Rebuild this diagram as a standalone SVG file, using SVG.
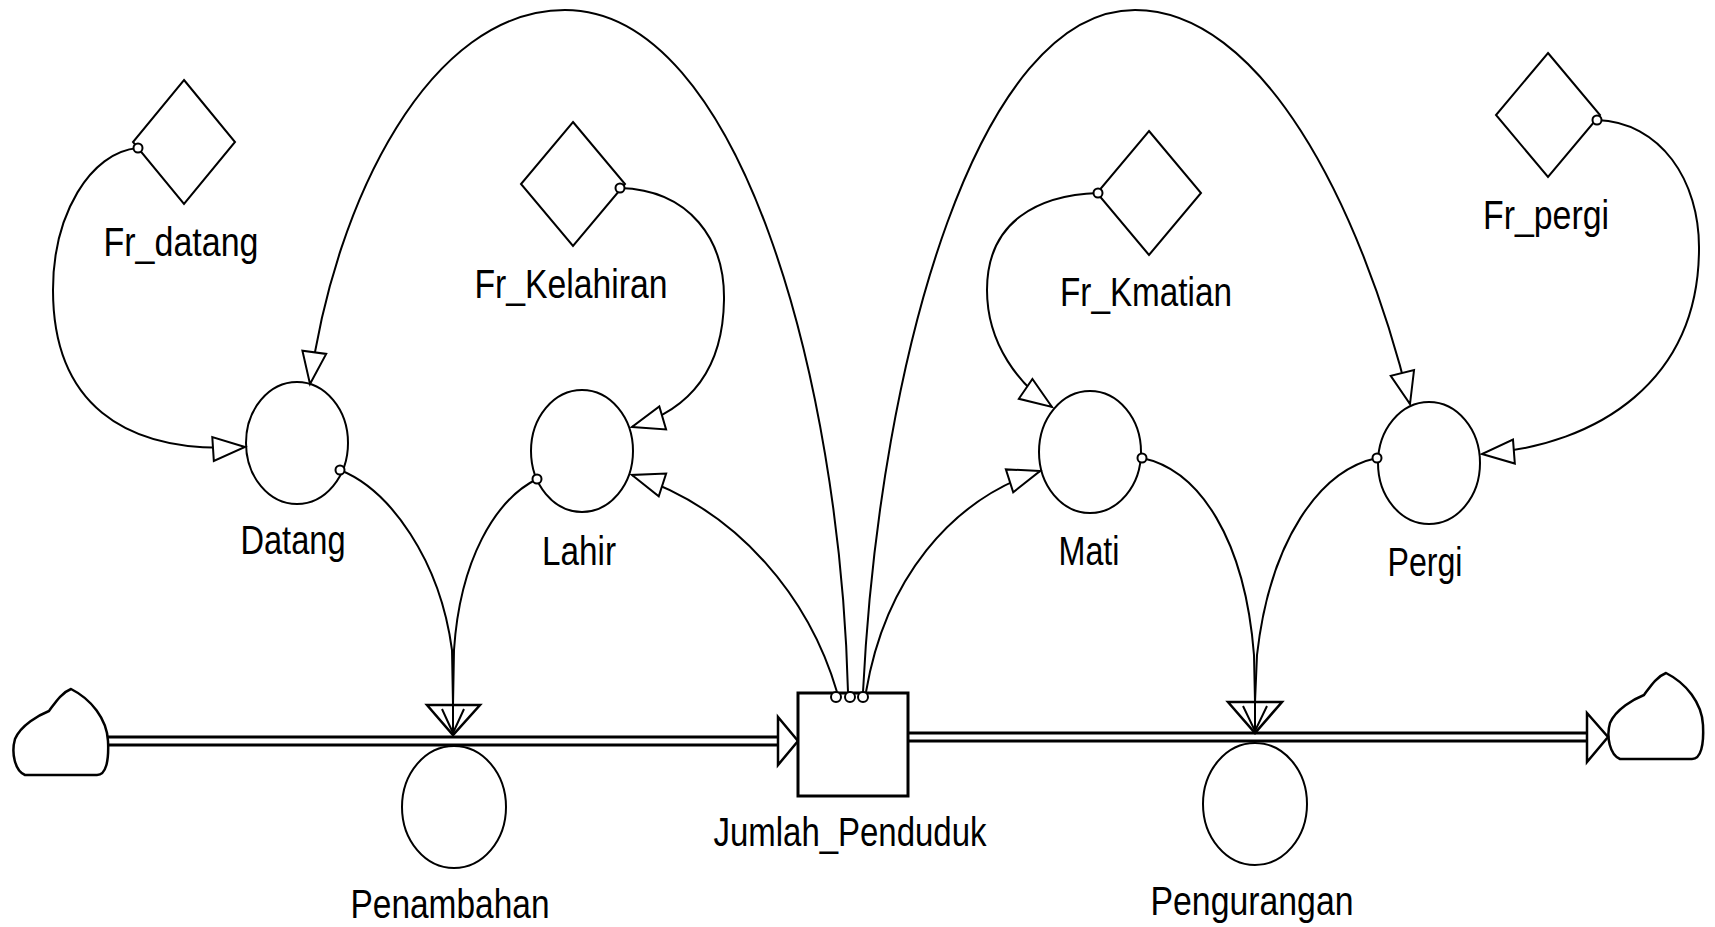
<svg xmlns="http://www.w3.org/2000/svg" width="1715" height="927" viewBox="0 0 1715 927">
<style>
.ln{fill:none;stroke:#000;stroke-width:2}
.node{fill:#fff;stroke:#000;stroke-width:2}
.box{fill:#fff;stroke:#000;stroke-width:3}
.pipe{fill:none;stroke:#000;stroke-width:3}
.hd{fill:#fff;stroke:#000;stroke-width:2.5;stroke-linejoin:miter}
.org{fill:#fff;stroke:#000;stroke-width:2}
.lbl{font-family:"Liberation Sans",Arial,sans-serif;font-size:40px;fill:#000;text-anchor:middle}
</style>
<defs>
<marker id="ah" viewBox="-35 -15 38 30" refX="0" refY="0" markerWidth="38" markerHeight="30" markerUnits="userSpaceOnUse" orient="auto">
<path d="M0,0 L-32,-12 L-32,12 Z" fill="#fff" stroke="#000" stroke-width="2"/>
</marker>
<path id="cloud" d="M12,86 H84 C93,86 96,72 95,52 C94,30 78,10 58,0 C48,4 42,14 36,22 C26,26 8,36 2,50 C-2,64 2,82 12,86 Z" fill="#fff" stroke="#000" stroke-width="2.5"/>
</defs>
<rect width="1715" height="927" fill="#fff"/>

<g id="cloud_source"><use href="#cloud" transform="translate(13,689)"/></g>
<g id="cloud_sink"><use href="#cloud" transform="translate(1608,673)"/></g>

<g id="flow_Penambahan">
<line class="pipe" x1="108" y1="737" x2="779" y2="737"/>
<line class="pipe" x1="108" y1="745" x2="779" y2="745"/>
<path class="hd" d="M778,717 L798,741 L778,765 Z"/>
<ellipse class="node" cx="454" cy="807" rx="52" ry="61"/>
<path class="hd" d="M427,705 L480,705 L453,735 Z"/>
<path class="ln" d="M442,709 L453,733 L464,709 M453,705 V735"/>
<text class="lbl" x="450" y="918" textLength="199" lengthAdjust="spacingAndGlyphs">Penambahan</text>
</g>

<g id="flow_Pengurangan">
<line class="pipe" x1="908" y1="733" x2="1588" y2="733"/>
<line class="pipe" x1="908" y1="741" x2="1588" y2="741"/>
<path class="hd" d="M1587,713 L1608,737 L1587,762 Z"/>
<ellipse class="node" cx="1255" cy="804" rx="52" ry="61"/>
<path class="hd" d="M1228,702 L1282,702 L1255,733 Z"/>
<path class="ln" d="M1243,706 L1255,731 L1267,706 M1255,702 V733"/>
<text class="lbl" x="1252" y="915" textLength="203" lengthAdjust="spacingAndGlyphs">Pengurangan</text>
</g>

<g id="stock_Jumlah_Penduduk">
<rect class="box" x="798" y="693" width="110" height="103"/>
<text class="lbl" x="850" y="846" textLength="273" lengthAdjust="spacingAndGlyphs">Jumlah_Penduduk</text>
</g>

<g id="aux_Datang">
<ellipse class="node" cx="297" cy="443" rx="51" ry="61"/>
<text class="lbl" x="293" y="554" textLength="105" lengthAdjust="spacingAndGlyphs">Datang</text>
</g>
<g id="aux_Lahir">
<ellipse class="node" cx="582" cy="451" rx="51" ry="61"/>
<text class="lbl" x="579" y="565" textLength="74" lengthAdjust="spacingAndGlyphs">Lahir</text>
</g>
<g id="aux_Mati">
<ellipse class="node" cx="1090" cy="452" rx="51" ry="61"/>
<text class="lbl" x="1089" y="565" textLength="61" lengthAdjust="spacingAndGlyphs">Mati</text>
</g>
<g id="aux_Pergi">
<ellipse class="node" cx="1429" cy="463" rx="51" ry="61"/>
<text class="lbl" x="1425" y="576" textLength="75" lengthAdjust="spacingAndGlyphs">Pergi</text>
</g>

<g id="const_Fr_datang">
<path class="node" d="M184,80 L235,142 L184,204 L133,142 Z"/>
<text class="lbl" x="181" y="256" textLength="155" lengthAdjust="spacingAndGlyphs">Fr_datang</text>
</g>
<g id="const_Fr_Kelahiran">
<path class="node" d="M573,122 L625,184 L573,246 L521,184 Z"/>
<text class="lbl" x="571" y="298" textLength="193" lengthAdjust="spacingAndGlyphs">Fr_Kelahiran</text>
</g>
<g id="const_Fr_Kmatian">
<path class="node" d="M1149,131 L1201,193 L1149,255 L1097,193 Z"/>
<text class="lbl" x="1146" y="306" textLength="172" lengthAdjust="spacingAndGlyphs">Fr_Kmatian</text>
</g>
<g id="const_Fr_pergi">
<path class="node" d="M1548,53 L1600,115 L1548,177 L1496,115 Z"/>
<text class="lbl" x="1546" y="229" textLength="126" lengthAdjust="spacingAndGlyphs">Fr_pergi</text>
</g>

<g id="connectors">
<path class="ln" marker-end="url(#ah)" d="M138,148 C90,152 53,215 53,290 C53,400 120,455 245,447"/>
<path class="ln" marker-end="url(#ah)" d="M620,188 C690,190 725,240 724,300 C723,370 690,410 632,427"/>
<path class="ln" marker-end="url(#ah)" d="M848,692 C840,380 740,10 565,10 C430,10 335,200 310,384"/>
<path class="ln" marker-end="url(#ah)" d="M837,692 C810,600 740,510 632,475"/>
<path class="ln" marker-end="url(#ah)" d="M866,692 C885,580 950,500 1040,471"/>
<path class="ln" marker-end="url(#ah)" d="M863,692 C880,350 980,10 1135,10 C1260,10 1360,200 1410,404"/>
<path class="ln" marker-end="url(#ah)" d="M1098,193 C1040,195 987,220 987,290 C987,345 1020,385 1052,407"/>
<path class="ln" marker-end="url(#ah)" d="M1597,120 C1660,122 1700,180 1699,250 C1698,380 1600,445 1482,454"/>
<path class="ln" d="M340,470 C390,490 440,560 452,650 L453,705"/>
<path class="ln" d="M537,479 C495,500 460,560 454,650 L453,705"/>
<path class="ln" d="M1142,458 C1200,470 1245,540 1254,655 L1255,702"/>
<path class="ln" d="M1377,458 C1320,470 1270,540 1257,655 L1255,702"/>
<circle class="org" cx="138" cy="148" r="4.5"/>
<circle class="org" cx="620" cy="188" r="4.5"/>
<circle class="org" cx="1098" cy="193" r="4.5"/>
<circle class="org" cx="1597" cy="120" r="4.5"/>
<circle class="org" cx="340" cy="470" r="4.5"/>
<circle class="org" cx="537" cy="479" r="4.5"/>
<circle class="org" cx="1142" cy="458" r="4.5"/>
<circle class="org" cx="1377" cy="458" r="4.5"/>
<circle class="org" cx="836" cy="697" r="5"/>
<circle class="org" cx="850" cy="697" r="5"/>
<circle class="org" cx="863" cy="697" r="5"/>
</g>
</svg>
